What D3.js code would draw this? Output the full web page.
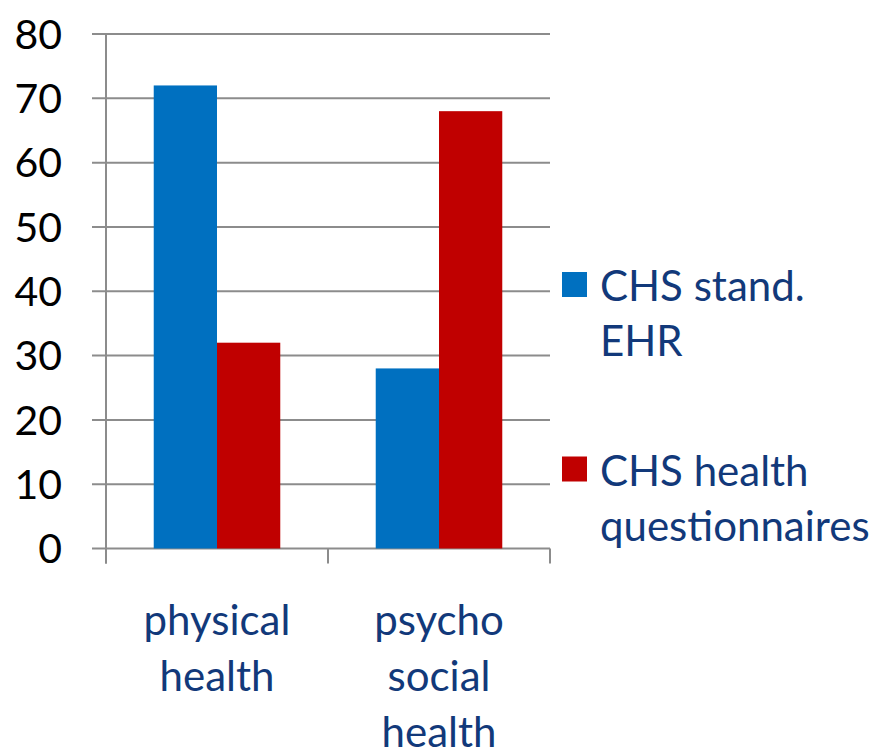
<!DOCTYPE html>
<html>
<head>
<meta charset="utf-8">
<script src="https://cdn.jsdelivr.net/npm/d3@7"></script>
<style>
  body { margin: 0; background: #fff; }
  svg { display: block; }
</style>
</head>
<body>
<svg id="chart" width="885" height="751"></svg>
<script>
const categories = [['physical', 'health'], ['psycho', 'social', 'health']]
const series = ['CHS stand. EHR', 'CHS health questionnaires']
const seriesLines = [['CHS stand.', 'EHR'], ['CHS health', 'questionnaires']]
const values = [[72, 32], [28, 68]]   // per category: [EHR, questionnaires]
const yTicks = [0, 10, 20, 30, 40, 50, 60, 70, 80]

const colors = ['#0070C0', '#C00000']
const textColor = '#12397A'
const gridColor = '#8C8C8C'
const font = 'Lato, "Open Sans", sans-serif'

const plotLeft = 106, plotRight = 550, plotTop = 34, plotBottom = 548.5

let svg = d3.select('#chart')

let y = d3.scaleLinear().domain([0, 80]).range([plotBottom, plotTop])

let x0 = d3.scaleBand()
        .domain(categories.map((d, i) => i))
        .range([plotLeft, plotRight])
        .paddingInner(0.43)
        .paddingOuter(0.215)

let x1 = d3.scaleBand()
        .domain(series.map((d, i) => i))
        .range([0, x0.bandwidth()])

// gridlines + y ticks
svg.append('g')
   .selectAll('line')
   .data(yTicks)
   .enter()
   .append('line')
   .attr('x1', plotLeft - 14)
   .attr('x2', plotRight)
   .attr('y1', d => y(d))
   .attr('y2', d => y(d))
   .attr('stroke', gridColor)
   .attr('stroke-width', 2)

// y axis line
svg.append('line')
   .attr('x1', plotLeft).attr('x2', plotLeft)
   .attr('y1', plotTop).attr('y2', plotBottom + 15)
   .attr('stroke', gridColor)
   .attr('stroke-width', 2)

// category separators
let step = x0.step()
svg.append('g')
   .selectAll('line')
   .data(d3.range(categories.length + 1))
   .enter()
   .append('line')
   .attr('x1', d => plotLeft + d * step)
   .attr('x2', d => plotLeft + d * step)
   .attr('y1', plotBottom)
   .attr('y2', plotBottom + 15)
   .attr('stroke', gridColor)
   .attr('stroke-width', 2)

svg.append('g')
   .selectAll('text')
   .data(yTicks)
   .enter()
   .append('text')
   .attr('x', 62)
   .attr('y', d => y(d))
   .attr('dy', '0.36em')
   .attr('text-anchor', 'end')
   .style('font-family', font)
   .style('font-size', '41px')
   .attr('fill', '#000')
   .text(d => d)

// bars
let groups = svg.append('g')
   .selectAll('g')
   .data(values)
   .enter()
   .append('g')
   .attr('transform', (d, i) => `translate(${x0(i)},0)`)

groups.selectAll('rect')
   .data(d => d)
   .enter()
   .append('rect')
   .attr('x', (d, j) => x1(j))
   .attr('width', x1.bandwidth())
   .attr('y', d => y(d))
   .attr('height', d => y(0) - y(d))
   .attr('fill', (d, j) => colors[j])

// category labels
svg.append('g')
   .selectAll('text')
   .data(categories)
   .enter()
   .append('text')
   .attr('x', (d, i) => x0(i) + x0.bandwidth() / 2)
   .attr('y', 635)
   .attr('text-anchor', 'middle')
   .style('font-family', font)
   .style('font-size', '42px')
   .attr('fill', textColor)
   .selectAll('tspan')
   .data(d => d)
   .enter()
   .append('tspan')
   .attr('x', function () { return d3.select(this.parentNode).attr('x') })
   .attr('dy', (d, i) => i === 0 ? 0 : 56)
   .text(d => d)

// legend
let legend = svg.append('g')
   .selectAll('g')
   .data(seriesLines)
   .enter()
   .append('g')
   .attr('transform', (d, i) => `translate(562,${272 + i * 184.5})`)

legend.append('rect')
   .attr('width', 25)
   .attr('height', 25)
   .attr('fill', (d, i) => colors[i])

legend.append('text')
   .attr('x', 38)
   .attr('y', 29)
   .style('font-family', font)
   .style('font-size', '42px')
   .attr('fill', textColor)
   .selectAll('tspan')
   .data(d => d)
   .enter()
   .append('tspan')
   .attr('x', 38)
   .attr('dy', (d, i) => i === 0 ? 0 : 55)
   .text(d => d)
</script>
</body>
</html>
